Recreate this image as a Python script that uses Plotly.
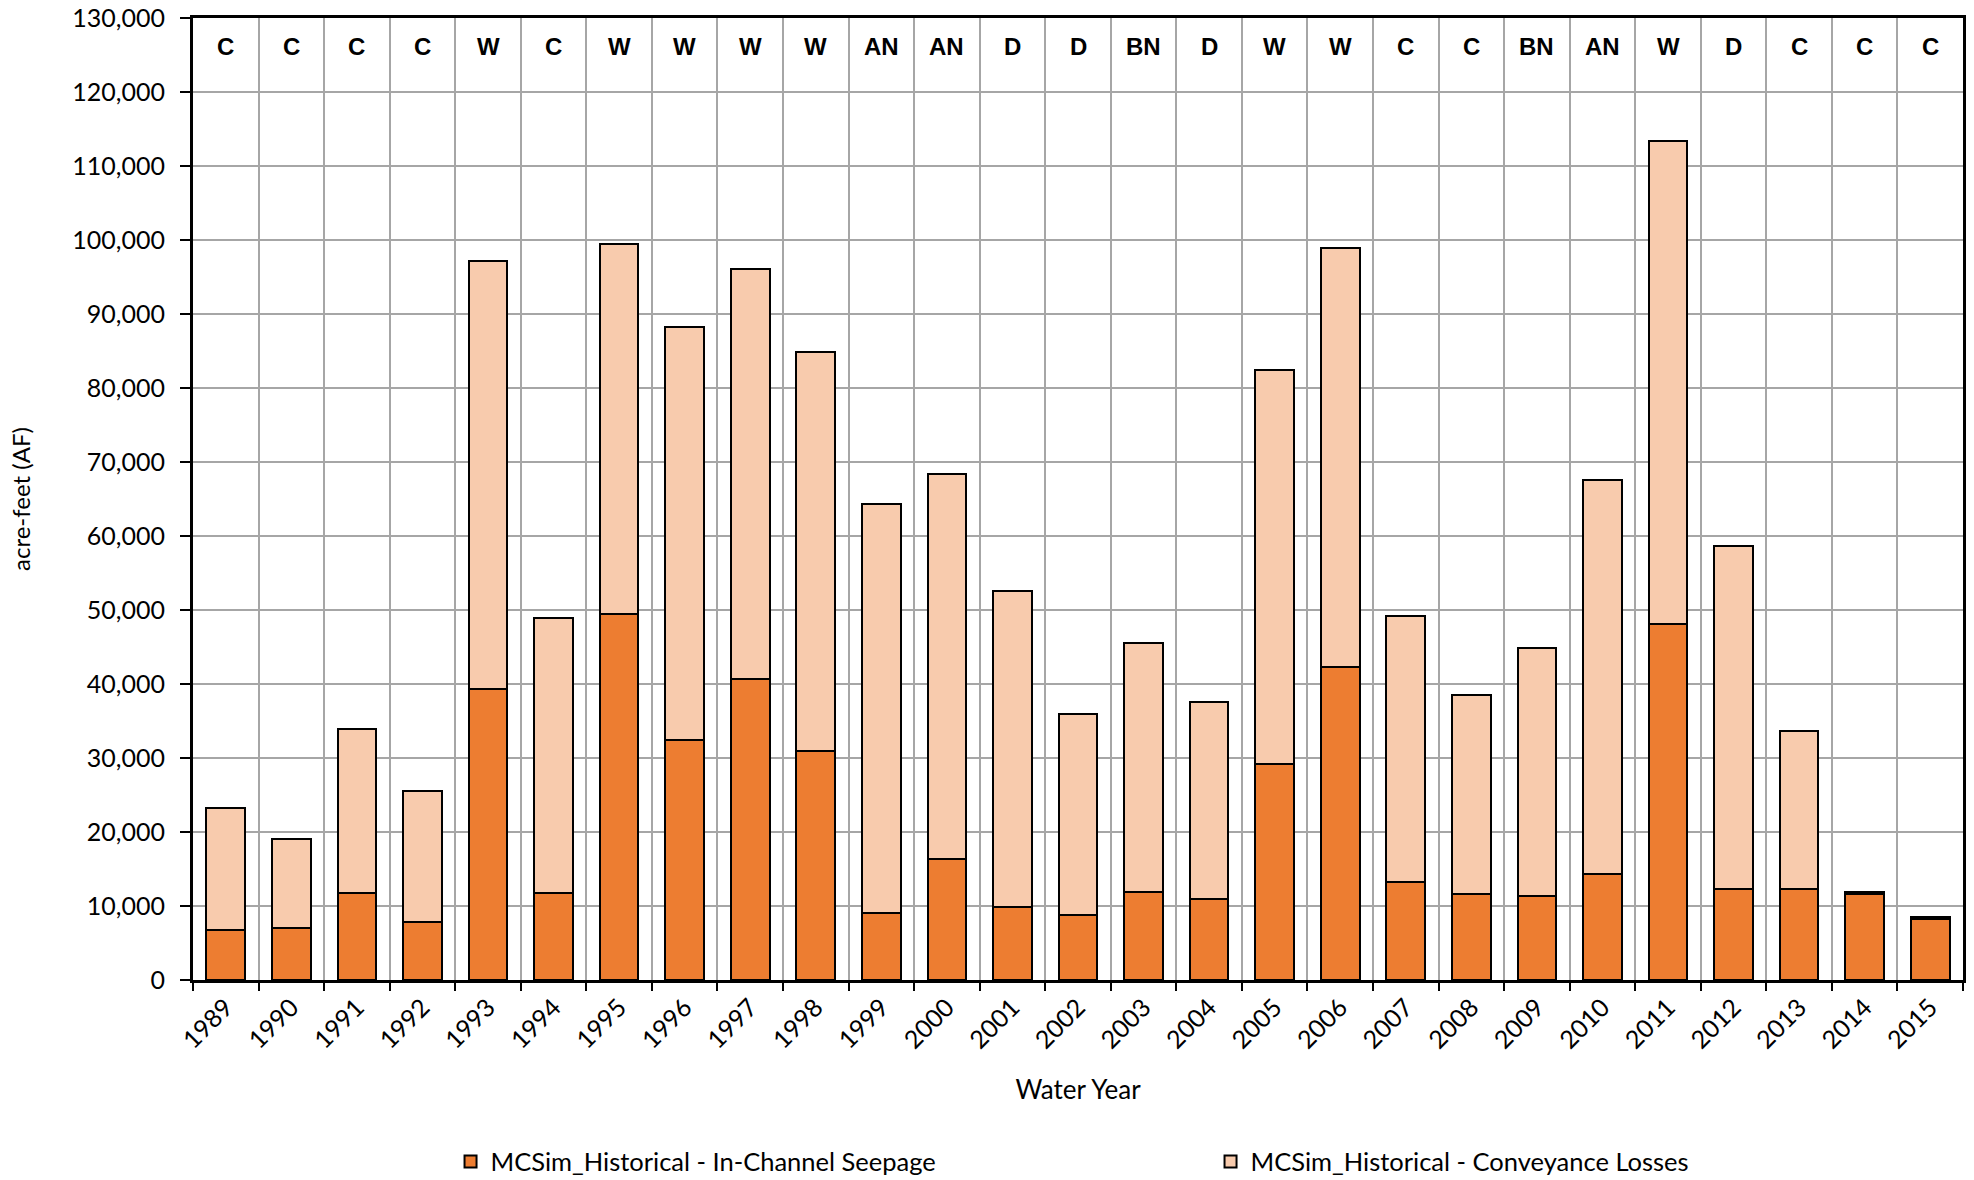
import plotly.graph_objects as go

years = [str(y) for y in range(1989, 2016)]
year_types = ["C", "C", "C", "C", "W", "C", "W", "W", "W", "W", "AN", "AN", "D", "D", "BN",
              "D", "W", "W", "C", "C", "BN", "AN", "W", "D", "C", "C", "C"]
seepage = [6800, 7000, 11700, 7900, 39300, 11700, 49500, 32500, 40700, 31000,
           9100, 16400, 9800, 8800, 11900, 10900, 29200, 42300, 13200, 11600,
           11400, 14300, 48100, 12250, 12250, 11600, 8300]
totals = [23200, 19100, 33900, 25500, 97200, 48900, 99500, 88300, 96100, 84900,
          64300, 68400, 52600, 35900, 45500, 37600, 82400, 98900, 49200, 38500,
          44900, 67600, 113400, 58700, 33600, 11900, 8550]
conveyance = [t - s for t, s in zip(totals, seepage)]

fig = go.Figure()
fig.add_trace(go.Bar(x=years, y=seepage, name="MCSim_Historical - In-Channel Seepage",
                     marker=dict(color="#ED7D31", line=dict(color="black", width=2))))
fig.add_trace(go.Bar(x=years, y=conveyance, name="MCSim_Historical - Conveyance Losses",
                     marker=dict(color="#F8CBAD", line=dict(color="black", width=2))))

for i, t in enumerate(year_types):
    fig.add_annotation(x=i, y=0.9704, xref="x", yref="paper", text="<b>" + t + "</b>",
                       showarrow=False, font=dict(family="Liberation Sans", size=24, color="black"),
                       yanchor="middle")

fig.update_layout(
    barmode="stack",
    bargap=0.41,
    width=1974, height=1180,
    margin=dict(l=193, r=11, t=18, b=200, autoexpand=False),
    paper_bgcolor="white", plot_bgcolor="white",
    font=dict(family="Lato", size=25, color="black"),
    showlegend=True,
    legend=dict(orientation="h", x=0.1455, xanchor="left", y=-0.189, yanchor="middle",
                entrywidth=715, entrywidthmode="pixels", traceorder="normal",
                font=dict(family="Lato", size=25.5), itemsizing="constant"),
    xaxis=dict(type="category", range=[-0.5, len(years) - 0.5], tickson="boundaries",
               showgrid=True, gridcolor="#A6A6A6",
               gridwidth=2, showline=True, linecolor="black", linewidth=3, mirror=True,
               ticks="outside", ticklen=8, tickwidth=2, tickcolor="black", tickangle=-45,
               tickfont=dict(family="Lato", size=25),
               title=dict(text="Water Year", font=dict(family="Lato", size=26), standoff=28)),
    yaxis=dict(range=[0, 130000], dtick=10000, tickformat=",d", showgrid=True,
               gridcolor="#A6A6A6", gridwidth=2, showline=True, linecolor="black",
               linewidth=3, mirror=True, ticks="outside", ticklen=10, tickwidth=2,
               tickcolor="black", tickfont=dict(family="Lato", size=25), zeroline=False,
               ticklabelstandoff=10, ticklabeloverflow="allow",
               title=dict(text="acre-feet (AF)", font=dict(family="Lato", size=24), standoff=35)),
)

fig.write_html("out.html", config={"displayModeBar": False},
               post_script="document.body.style.margin='0';")
